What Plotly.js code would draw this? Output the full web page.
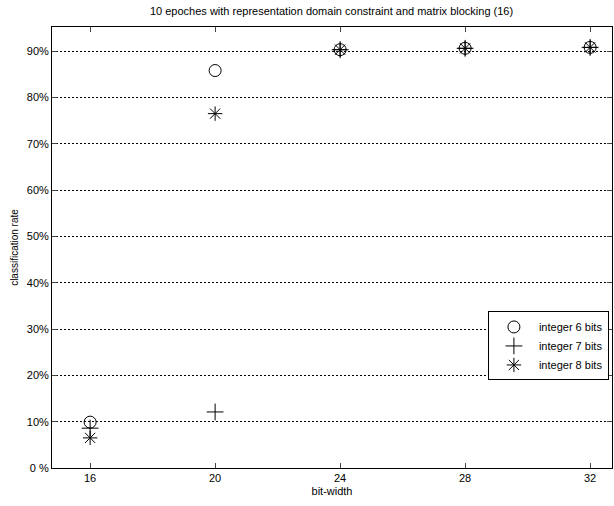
<!DOCTYPE html>
<html><head><meta charset="utf-8">
<script src="https://cdn.plot.ly/plotly-3.0.1.min.js"></script>
<style>body{margin:0;background:#fff}#g{width:614px;height:506px}</style>
</head><body><div id="g"></div>
<script>
var bitWidth = [16, 20, 24, 28, 32];
var int6 = [9.9, 85.8, 90.3, 90.6, 90.8];
var int7 = [8.6, 12.1, 90.3, 90.6, 90.8];
var int8 = [6.5, 76.5, 90.3, 90.6, 90.8];
var names = ['integer 6 bits', 'integer 7 bits', 'integer 8 bits'];
var xTicks = [16, 20, 24, 28, 32];
var yTicks = [0,10,20,30,40,50,60,70,80,90];
var yTickText = ['0 %','10%','20%','30%','40%','50%','60%','70%','80%','90%'];

function tr(y, name, sym){
  return {x: bitWidth, y: y, name: name, mode: 'markers', type: 'scatter',
    marker: {symbol: sym, size: 12, color: '#000', line: {color: '#000', width: 1}}};
}
var data = [tr(int6, names[0], 'circle-open'), tr(int7, names[1], 'cross-thin-open'), tr(int8, names[2], 'asterisk-open')];
var layout = {
  width: 614, height: 506,
  margin: {l: 52, r: 2, t: 27, b: 38},
  paper_bgcolor: '#fff', plot_bgcolor: '#fff',
  font: {family: 'Liberation Sans, Arial, sans-serif', size: 11, color: '#000'},
  title: {text: '10 epoches with representation domain constraint and matrix blocking (16)', x: 0.54, xanchor: 'center', y: 0.985, yanchor: 'top', font: {size: 11}},
  xaxis: {range: [14.78, 32.7], tickvals: xTicks, ticks: 'inside', ticklen: 5, mirror: 'ticks',
    showline: true, linecolor: '#000', linewidth: 1, showgrid: false, zeroline: false,
    title: {text: 'bit-width', standoff: 4, font: {size: 11}}},
  yaxis: {range: [0, 95.2], tickvals: yTicks, ticktext: yTickText, ticks: 'inside', ticklen: 5, mirror: 'ticks',
    showline: true, linecolor: '#000', linewidth: 1, showgrid: true, gridcolor: '#000', griddash: '2px,2px', gridwidth: 1, zeroline: false,
    title: {text: 'classification rate', standoff: 6, font: {size: 10}}},
  legend: {x: 0.9945, xanchor: 'right', y: 0.355, yanchor: 'top', bgcolor: '#fff', bordercolor: '#000', borderwidth: 1,
    font: {size: 11}, tracegroupgap: 0, itemwidth: 40},
  showlegend: true
};
Plotly.newPlot('g', data, layout, {displayModeBar: false, staticPlot: true});
</script>
</body></html>
